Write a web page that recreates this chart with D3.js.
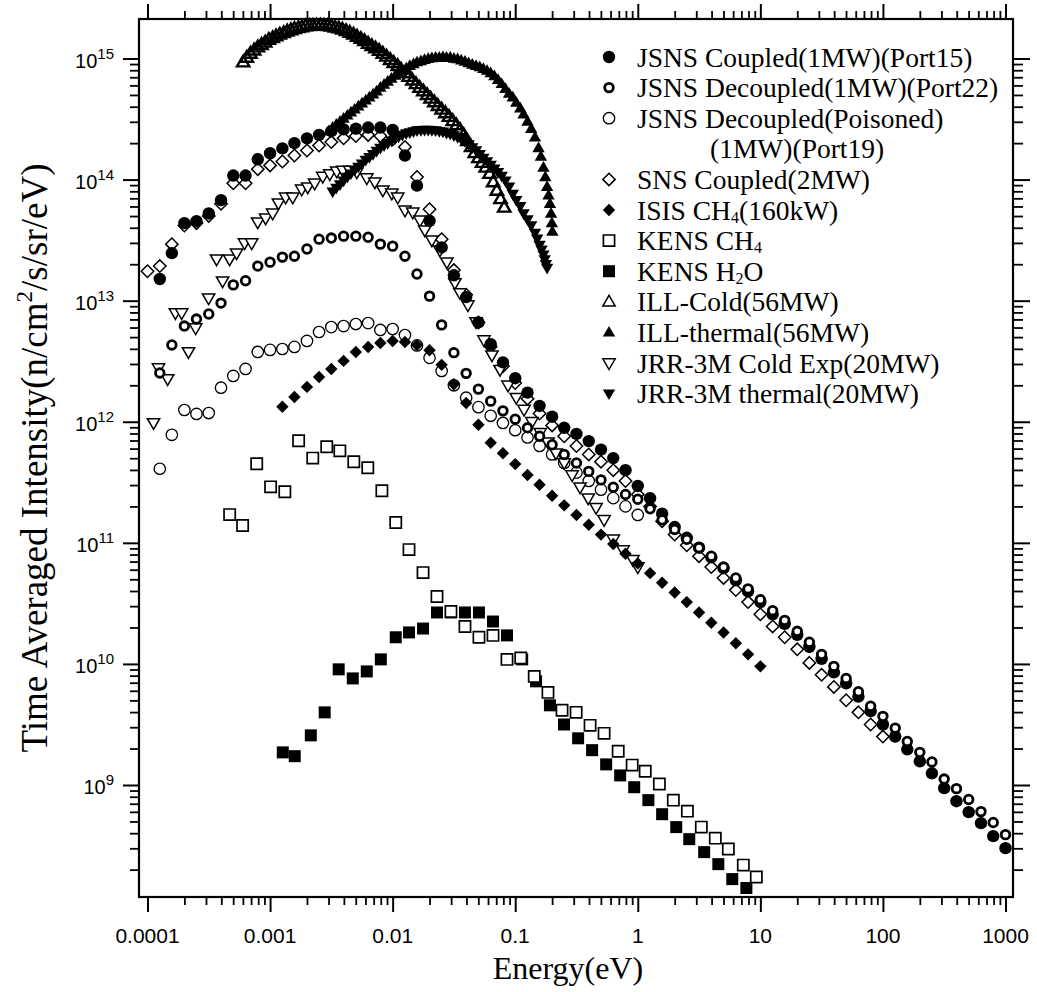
<!DOCTYPE html>
<html>
<head>
<meta charset="utf-8">
<script src="https://cdn.jsdelivr.net/npm/d3@7"></script>
<style>
    body { margin: 0; background: #fff; }
    svg { display: block; }
</style>
</head>
<body>
<div id="chart"></div>
<script>
// [energy (eV), intensity (n/cm2/s/sr/eV)]
const jsnsCoupled = [
    [1.26e-4,1.51e13],[1.58e-4,2.47e13],[2.0e-4,4.37e13],[2.51e-4,4.53e13],[3.16e-4,5.25e13],[3.98e-4,6.76e13],[5.01e-4,1.08e14],[6.31e-4,1.08e14],[7.94e-4,1.47e14],[1.0e-3,1.65e14],
    [1.26e-3,1.81e14],[1.58e-3,2.0e14],[2.0e-3,2.19e14],[2.51e-3,2.34e14],[3.16e-3,2.51e14],[3.98e-3,2.6e14],[5.01e-3,2.63e14],[6.31e-3,2.69e14],[7.94e-3,2.69e14],[1.0e-2,2.57e14],
    [1.26e-2,1.58e14],[1.58e-2,8.91e13],[2.0e-2,4.57e13],[2.51e-2,2.75e13],[3.16e-2,1.62e13],[3.98e-2,1.07e13],[5.01e-2,6.61e12],[6.31e-2,4.37e12],[7.94e-2,3.09e12],[0.1,2.29e12],
    [0.126,1.74e12],[0.158,1.35e12],[0.2,1.10e12],[0.251,8.91e11],[0.316,7.94e11],[0.398,6.92e11],[0.501,5.89e11],[0.631,5.01e11],[0.794,3.98e11],[1.0,2.95e11],
    [1.26,2.34e11],[1.58,1.74e11],[2.0,1.35e11],[2.51,1.10e11],[3.16,9.12e10],[3.98,7.59e10],[5.01,6.17e10],[6.31,4.90e10],[7.94,3.98e10],[10,3.24e10],
    [12.6,2.57e10],[15.8,2.14e10],[20,1.74e10],[25.1,1.38e10],[31.6,1.10e10],[39.8,8.51e9],[50.1,6.92e9],[63.1,5.37e9],[79.4,4.07e9],[100,3.16e9],
    [126,2.51e9],[158,1.97e9],[200,1.57e9],[251,1.25e9],[316,9.42e8],[398,7.35e8],[501,5.97e8],[631,4.84e8],[794,3.78e8],[1000,3.01e8]
];
const jsnsDecoupled = [
    [1.26e-4,2.53e12],[1.58e-4,4.31e12],[2.0e-4,6.17e12],[2.51e-4,7.05e12],[3.16e-4,7.76e12],[3.98e-4,9.55e12],[5.01e-4,1.35e13],[6.31e-4,1.46e13],[7.94e-4,1.93e13],[1.0e-3,2.08e13],
    [1.26e-3,2.29e13],[1.58e-3,2.33e13],[2.0e-3,2.67e13],[2.51e-3,3.22e13],[3.16e-3,3.29e13],[3.98e-3,3.41e13],[5.01e-3,3.41e13],[6.31e-3,3.34e13],[7.94e-3,2.93e13],[1.0e-2,2.82e13],
    [1.26e-2,2.33e13],[1.58e-2,1.66e13],[2.0e-2,1.09e13],[2.51e-2,6.31e12],[3.16e-2,3.72e12],[3.98e-2,2.51e12],[5.01e-2,1.86e12],[6.31e-2,1.48e12],[7.94e-2,1.23e12],[0.1,1.05e12],
    [0.126,8.91e11],[0.158,7.59e11],[0.2,6.46e11],[0.251,5.37e11],[0.316,4.57e11],[0.398,3.89e11],[0.501,3.31e11],[0.631,2.88e11],[0.794,2.51e11],[1.0,2.29e11],
    [1.26,1.91e11],[1.58,1.55e11],[2.0,1.29e11],[2.51,1.07e11],[3.16,9.12e10],[3.98,7.76e10],[5.01,6.31e10],[6.31,5.13e10],[7.94,4.17e10],[10,3.39e10],
    [12.6,2.75e10],[15.8,2.29e10],[20,1.86e10],[25.1,1.51e10],[31.6,1.20e10],[39.8,9.55e9],[50.1,7.59e9],[63.1,5.89e9],[79.4,4.47e9],[100,3.69e9],
    [126,2.95e9],[158,2.29e9],[200,1.86e9],[251,1.55e9],[316,1.12e9],[398,9.33e8],[501,7.59e8],[631,6.03e8],[794,4.90e8],[1000,3.89e8]
];
const jsnsPoisoned = [
    [1.26e-4,4.09e11],[1.58e-4,7.80e11],[2.0e-4,1.25e12],[2.51e-4,1.16e12],[3.16e-4,1.18e12],[3.98e-4,1.91e12],[5.01e-4,2.39e12],[6.31e-4,2.73e12],[7.94e-4,3.77e12],[1.0e-3,3.92e12],
    [1.26e-3,3.99e12],[1.58e-3,4.15e12],[2.0e-3,4.65e12],[2.51e-3,5.51e12],[3.16e-3,6.05e12],[3.98e-3,6.17e12],[5.01e-3,6.41e12],[6.31e-3,6.53e12],[7.94e-3,5.73e12],[1.0e-2,5.83e12],
    [1.26e-2,5.20e12],[1.58e-2,4.27e12],[2.0e-2,3.37e12],[2.51e-2,2.63e12],[3.16e-2,2.0e12],[3.98e-2,1.58e12],[5.01e-2,1.32e12],[6.31e-2,1.12e12],[7.94e-2,9.77e11],[0.1,8.51e11],
    [0.126,7.41e11],[0.158,6.31e11],[0.2,5.37e11],[0.251,4.57e11],[0.316,3.80e11],[0.398,3.24e11],[0.501,2.75e11],[0.631,2.34e11],[0.794,2.0e11],[1.0,1.70e11]
];
const snsCoupled = [
    [1.0e-4,1.75e13],[1.26e-4,1.93e13],[1.58e-4,2.93e13],[2.0e-4,4.17e13],[2.51e-4,4.37e13],[3.16e-4,5.01e13],[3.98e-4,6.31e13],[5.01e-4,9.33e13],[6.31e-4,9.33e13],[7.94e-4,1.22e14],[1.0e-3,1.31e14],
    [1.26e-3,1.41e14],[1.58e-3,1.58e14],[2.0e-3,1.74e14],[2.51e-3,1.91e14],[3.16e-3,2.04e14],[3.98e-3,2.19e14],[5.01e-3,2.29e14],[6.31e-3,2.34e14],[7.94e-3,2.29e14],[1.0e-2,2.14e14],
    [1.26e-2,1.86e14],[1.58e-2,1.05e14],[2.0e-2,5.69e13],[2.51e-2,3.22e13],[3.16e-2,1.79e13],[3.98e-2,1.12e13],[5.01e-2,6.61e12],[6.31e-2,4.17e12],[7.94e-2,2.88e12],[0.1,2.09e12],
    [0.126,1.55e12],[0.158,1.17e12],[0.2,9.33e11],[0.251,7.59e11],[0.316,6.31e11],[0.398,5.37e11],[0.501,4.68e11],[0.631,3.98e11],[0.794,3.24e11],[1.0,2.51e11],
    [1.26,2.0e11],[1.58,1.51e11],[2.0,1.17e11],[2.51,9.55e10],[3.16,7.76e10],[3.98,6.31e10],[5.01,5.13e10],[6.31,4.07e10],[7.94,3.24e10],[10,2.57e10],
    [12.6,2.04e10],[15.8,1.66e10],[20,1.32e10],[25.1,1.02e10],[31.6,8.13e9],[39.8,6.46e9],[50.1,5.01e9],[63.1,3.98e9],[79.4,3.16e9],[100,2.51e9]
];
const isisCH4 = [
    [1.26e-3,1.33e12],[1.58e-3,1.60e12],[2.0e-3,1.94e12],[2.51e-3,2.34e12],[3.16e-3,2.73e12],[3.98e-3,3.18e12],[5.01e-3,3.77e12],[6.31e-3,4.14e12],[7.94e-3,4.47e12],[1.0e-2,4.65e12],
    [1.26e-2,4.56e12],[1.58e-2,4.31e12],[2.0e-2,3.89e12],[2.51e-2,2.95e12],[3.16e-2,2.04e12],[3.98e-2,1.43e12],[5.01e-2,9.44e11],[6.31e-2,6.70e11],[7.94e-2,5.50e11],[0.1,4.47e11],
    [0.126,3.63e11],[0.158,3.02e11],[0.2,2.45e11],[0.251,2.04e11],[0.316,1.70e11],[0.398,1.41e11],[0.501,1.17e11],[0.631,9.77e10],[0.794,8.13e10],[1.0,6.76e10],
    [1.26,5.62e10],[1.58,4.68e10],[2.0,3.89e10],[2.51,3.24e10],[3.16,2.66e10],[3.98,2.19e10],[5.01,1.82e10],[6.31,1.48e10],[7.94,1.20e10],[10,9.55e9]
];
const kensCH4 = [
    [4.68e-4,1.71e11],[5.97e-4,1.39e11],[7.78e-4,4.50e11],[1.01e-3,2.90e11],[1.32e-3,2.64e11],[1.71e-3,6.97e11],[2.23e-3,5.01e11],[2.90e-3,6.21e11],[3.71e-3,5.75e11],[4.82e-3,4.67e11],
    [6.27e-3,4.17e11],[8.17e-3,2.69e11],[1.06e-2,1.47e11],[1.36e-2,8.79e10],[1.77e-2,5.68e10],[2.30e-2,3.60e10],[2.99e-2,2.71e10],[3.89e-2,2.04e10],[5.06e-2,1.66e10],[6.59e-2,1.72e10],
    [8.57e-2,1.09e10],[0.111,1.12e10],[0.143,7.89e9],[0.185,5.82e9],[0.241,4.14e9],[0.314,3.98e9],[0.408,3.11e9],[0.531,2.67e9],[0.692,1.90e9],[0.90,1.46e9],
    [1.15,1.30e9],[1.50,1.02e9],[1.95,7.50e8],[2.54,6.08e8],[3.30,4.49e8],[4.29,3.64e8],[5.48,2.96e8],[7.26,2.18e8],[9.27,1.74e8]
];
const kensH2O = [
    [1.27e-3,1.86e9],[1.59e-3,1.73e9],[2.15e-3,2.57e9],[2.79e-3,3.98e9],[3.63e-3,9.02e9],[4.73e-3,7.59e9],[6.15e-3,8.67e9],[8.01e-3,1.09e10],[1.06e-2,1.66e10],[1.36e-2,1.82e10],
    [1.77e-2,1.96e10],[2.30e-2,2.66e10],[2.99e-2,2.66e10],[3.89e-2,2.66e10],[5.06e-2,2.66e10],[6.59e-2,2.24e10],[8.57e-2,1.72e10],[0.114,1.09e10],[0.148,7.18e9],[0.192,4.55e9],
    [0.25,3.16e9],[0.326,2.43e9],[0.424,1.94e9],[0.552,1.48e9],[0.718,1.20e9],[0.935,9.59e8],[1.22,7.50e8],[1.58,5.74e8],[2.06,4.49e8],[2.63,3.57e8],
    [3.48,2.79e8],[4.54,2.22e8],[5.90,1.67e8],[7.69,1.41e8]
];
const illCold = [
    [6.03e-4,9.33e14],[6.46e-4,1.02e15],[6.92e-4,1.10e15],[7.41e-4,1.17e15],[7.94e-4,1.24e15],[8.51e-4,1.30e15],[9.12e-4,1.36e15],[9.77e-4,1.43e15],[1.05e-3,1.48e15],[1.12e-3,1.53e15],
    [1.20e-3,1.58e15],[1.29e-3,1.63e15],[1.38e-3,1.68e15],[1.48e-3,1.72e15],[1.58e-3,1.76e15],[1.70e-3,1.79e15],[1.82e-3,1.82e15],[1.95e-3,1.85e15],[2.09e-3,1.86e15],[2.24e-3,1.87e15],
    [2.40e-3,1.88e15],[2.57e-3,1.88e15],[2.75e-3,1.87e15],[2.95e-3,1.86e15],[3.16e-3,1.84e15],[3.39e-3,1.81e15],[3.63e-3,1.78e15],[3.89e-3,1.74e15],[4.17e-3,1.69e15],[4.47e-3,1.64e15],
    [4.79e-3,1.58e15],[5.13e-3,1.52e15],[5.50e-3,1.46e15],[5.89e-3,1.40e15],[6.31e-3,1.33e15],[6.76e-3,1.27e15],[7.24e-3,1.22e15],[7.76e-3,1.16e15],[8.32e-3,1.10e15],[8.91e-3,1.04e15],
    [9.55e-3,9.77e14],[1.02e-2,9.23e14],[1.10e-2,8.71e14],[1.17e-2,8.13e14],[1.26e-2,7.59e14],[1.35e-2,7.08e14],[1.45e-2,6.61e14],[1.55e-2,6.17e14],[1.66e-2,5.75e14],[1.78e-2,5.37e14],
    [1.91e-2,5.01e14],[2.04e-2,4.68e14],[2.19e-2,4.37e14],[2.34e-2,4.07e14],[2.51e-2,3.80e14],[2.69e-2,3.55e14],[2.88e-2,3.31e14],[3.09e-2,3.05e14],[3.31e-2,2.82e14],[3.55e-2,2.57e14],
    [3.80e-2,2.34e14],[4.07e-2,2.09e14],[4.37e-2,1.86e14],[4.68e-2,1.66e14],[5.01e-2,1.51e14],[5.37e-2,1.38e14],[5.75e-2,1.26e14],[6.17e-2,1.12e14],[6.61e-2,9.55e13],[7.08e-2,8.13e13],
    [7.59e-2,6.92e13],[8.13e-2,5.89e13]
];
const illThermal = [
    [3.02e-3,2.51e14],[3.24e-3,2.69e14],[3.47e-3,2.85e14],[3.72e-3,3.02e14],[3.98e-3,3.20e14],[4.27e-3,3.39e14],[4.57e-3,3.59e14],[4.90e-3,3.80e14],[5.25e-3,4.03e14],[5.62e-3,4.27e14],
    [6.03e-3,4.52e14],[6.46e-3,4.79e14],[6.92e-3,5.07e14],[7.41e-3,5.37e14],[7.94e-3,5.75e14],[8.51e-3,6.10e14],[9.12e-3,6.46e14],[9.77e-3,6.84e14],[1.05e-2,7.24e14],[1.12e-2,7.59e14],
    [1.20e-2,7.94e14],[1.29e-2,8.32e14],[1.38e-2,8.71e14],[1.48e-2,9.02e14],[1.58e-2,9.33e14],[1.70e-2,9.55e14],[1.82e-2,9.77e14],[1.95e-2,9.93e14],[2.09e-2,1.01e15],[2.24e-2,1.02e15],
    [2.40e-2,1.02e15],[2.57e-2,1.03e15],[2.75e-2,1.02e15],[2.95e-2,1.02e15],[3.16e-2,1.00e15],[3.39e-2,9.89e14],[3.63e-2,9.68e14],[3.89e-2,9.44e14],[4.17e-2,9.16e14],[4.47e-2,8.91e14],
    [4.79e-2,8.71e14],[5.13e-2,8.51e14],[5.50e-2,8.22e14],[5.89e-2,7.94e14],[6.31e-2,7.59e14],[6.76e-2,7.16e14],[7.24e-2,6.68e14],[7.76e-2,6.17e14],[8.32e-2,5.62e14],[8.91e-2,5.13e14],
    [9.55e-2,4.79e14],[0.102,4.32e14],[0.110,3.89e14],[0.117,3.47e14],[0.126,3.02e14],[0.135,2.63e14],[0.145,2.24e14],[0.155,1.82e14],[0.162,1.55e14],[0.170,1.26e14],
    [0.176,1.05e14],[0.182,8.71e13],[0.187,7.41e13],[0.192,6.31e13],[0.196,5.25e13],[0.199,4.37e13],[0.201,3.72e13]
];
const jrrCold = [
    [1.12e-4,9.79e11],[1.23e-4,2.78e12],[1.46e-4,2.26e12],[1.69e-4,7.91e12],[1.90e-4,7.91e12],[2.16e-4,3.77e12],[2.47e-4,5.94e12],[3.15e-4,1.05e13],[3.66e-4,2.20e13],[4.10e-4,1.45e13],
    [4.68e-4,2.20e13],[5.33e-4,2.47e13],[6.19e-4,2.99e13],[7.08e-4,2.99e13],[7.93e-4,4.45e13],[9.20e-4,4.80e13],[1.05e-3,5.27e13],[1.17e-3,6.38e13],[1.34e-3,7.14e13],[1.53e-3,7.14e13],
    [1.81e-3,8.32e13],[2.03e-3,8.65e13],[2.31e-3,9.31e13],[2.69e-3,1.06e14],[3.07e-3,1.11e14],[3.50e-3,1.17e14],[3.92e-3,1.19e14],[4.47e-3,1.19e14],[5.10e-3,1.15e14],[6.15e-3,1.03e14],
    [7.16e-3,9.51e13],[8.32e-3,8.17e13],[9.84e-3,7.71e13],[1.10e-2,7.14e13],[1.26e-2,5.58e13],[1.46e-2,5.37e13],[1.67e-2,4.61e13],[1.83e-2,3.82e13],[2.09e-2,3.16e13],[2.43e-2,2.61e13],
    [2.77e-2,2.08e13],[3.22e-2,1.40e13],[3.54e-2,1.16e13],[4.11e-2,9.20e12],[4.79e-2,6.67e12],[5.56e-2,4.73e12],[6.46e-2,3.55e12],[7.52e-2,2.69e12],[8.73e-2,2.0e12],[0.102,1.58e12],
    [0.118,1.26e12],[0.137,1.0e12],[0.160,8.13e11],[0.185,6.76e11],[0.215,5.50e11],[0.251,4.57e11],[0.291,3.63e11],[0.338,2.88e11],[0.394,2.34e11],[0.457,1.95e11],
    [0.531,1.55e11],[0.631,1.07e11],[0.759,8.71e10],[0.912,7.24e10],[1.0,6.31e10]
];
const jrrThermal = [
    [3.24e-3,7.94e13],[3.47e-3,8.51e13],[3.72e-3,9.12e13],[3.98e-3,9.77e13],[4.27e-3,1.05e14],[4.57e-3,1.12e14],[4.90e-3,1.20e14],[5.25e-3,1.27e14],[5.62e-3,1.35e14],[6.03e-3,1.45e14],
    [6.46e-3,1.53e14],[6.92e-3,1.62e14],[7.41e-3,1.72e14],[7.94e-3,1.82e14],[8.51e-3,1.91e14],[9.12e-3,2.00e14],[9.77e-3,2.09e14],[1.05e-2,2.19e14],[1.12e-2,2.26e14],[1.20e-2,2.34e14],
    [1.29e-2,2.40e14],[1.38e-2,2.45e14],[1.48e-2,2.50e14],[1.58e-2,2.54e14],[1.70e-2,2.56e14],[1.82e-2,2.57e14],[1.95e-2,2.57e14],[2.09e-2,2.56e14],[2.24e-2,2.54e14],[2.40e-2,2.51e14],
    [2.57e-2,2.48e14],[2.75e-2,2.43e14],[2.95e-2,2.38e14],[3.16e-2,2.31e14],[3.39e-2,2.24e14],[3.63e-2,2.16e14],[3.89e-2,2.07e14],[4.17e-2,1.95e14],[4.47e-2,1.84e14],[4.79e-2,1.74e14],
    [5.13e-2,1.62e14],[5.50e-2,1.51e14],[5.89e-2,1.41e14],[6.31e-2,1.32e14],[6.76e-2,1.23e14],[7.24e-2,1.15e14],[7.76e-2,1.07e14],[8.32e-2,9.77e13],[8.91e-2,8.71e13],[9.55e-2,7.59e13],
    [0.102,6.76e13],[0.110,6.03e13],[0.117,5.25e13],[0.126,4.68e13],[0.135,4.17e13],[0.145,3.63e13],[0.151,3.24e13],[0.158,2.88e13],[0.164,2.63e13],[0.170,2.40e13],
    [0.174,2.19e13],[0.178,2.00e13],[0.182,1.86e13]
];

const xTicks = [1e-4, 1e-3, 1e-2, 1e-1, 1, 10, 100, 1000];
const xTickLabels = ["0.0001", "0.001", "0.01", "0.1", "1", "10", "100", "1000"];
const yTicks = [1e9, 1e10, 1e11, 1e12, 1e13, 1e14, 1e15];
const yTickExponents = ["9", "10", "11", "12", "13", "14", "15"];

const width = 1037, height = 992;
const frame = {left: 139, right: 1013, top: 19, bottom: 897};
const serif = "'Liberation Serif', 'Times New Roman', Times, serif";
const sans = "'Liberation Sans', Arial, Helvetica, sans-serif";

const x = d3.scaleLog().domain([1e-4, 1e3]).range([147.5, 1005.5]);
const y = d3.scaleLog().domain([1e9, 1e15]).range([785, 58.5]);

const shapes = {
    circle: r => d3.symbol(d3.symbolCircle, Math.PI * r * r)(),
    diamond: r => `M0,${-r}L${r},0L0,${r}L${-r},0Z`,
    square: r => `M${-r},${-r}H${r}V${r}H${-r}Z`,
    triUp: r => `M0,${-r}L${r * 0.95},${r * 0.65}L${-r * 0.95},${r * 0.65}Z`,
    triDown: r => `M0,${r}L${r * 0.95},${-r * 0.65}L${-r * 0.95},${-r * 0.65}Z`
};

const styles = {
    jsnsCoupled:   {data: jsnsCoupled,   shape: "circle",  r: 6.2, fill: "#000", sw: 0},
    jsnsDecoupled: {data: jsnsDecoupled, shape: "circle",  r: 4.3, fill: "#fff", sw: 2.8},
    jsnsPoisoned:  {data: jsnsPoisoned,  shape: "circle",  r: 5.7, fill: "#fff", sw: 1.3},
    snsCoupled:    {data: snsCoupled,    shape: "diamond", r: 6.2, fill: "#fff", sw: 1.5},
    isisCH4:       {data: isisCH4,       shape: "diamond", r: 6.2, fill: "#000", sw: 0},
    kensCH4:       {data: kensCH4,       shape: "square",  r: 5.6, fill: "#fff", sw: 1.7},
    kensH2O:       {data: kensH2O,       shape: "square",  r: 6.0, fill: "#000", sw: 0},
    illCold:       {data: illCold,       shape: "triUp",   r: 6.5, fill: "none", sw: 1.5},
    illThermal:    {data: illThermal,    shape: "triUp",   r: 6.5, fill: "#000", sw: 0},
    jrrCold:       {data: jrrCold,       shape: "triDown", r: 6.5, fill: "#fff", sw: 1.5},
    jrrThermal:    {data: jrrThermal,    shape: "triDown", r: 6.5, fill: "#000", sw: 0}
};

const drawOrder = ["snsCoupled", "jsnsPoisoned", "jrrCold", "isisCH4", "kensH2O", "kensCH4",
    "jsnsCoupled", "jsnsDecoupled", "jrrThermal", "illThermal", "illCold"];

const legendRows = [
    {key: "jsnsCoupled",   label: "JSNS Coupled(1MW)(Port15)"},
    {key: "jsnsDecoupled", label: "JSNS Decoupled(1MW)(Port22)"},
    {key: "jsnsPoisoned",  label: "JSNS Decoupled(Poisoned)"},
    {key: null,            label: "(1MW)(Port19)", indent: 73},
    {key: "snsCoupled",    label: "SNS Coupled(2MW)"},
    {key: "isisCH4",       label: "ISIS CH_4(160kW)"},
    {key: "kensCH4",       label: "KENS CH_4"},
    {key: "kensH2O",       label: "KENS H_2O"},
    {key: "illCold",       label: "ILL-Cold(56MW)"},
    {key: "illThermal",    label: "ILL-thermal(56MW)"},
    {key: "jrrCold",       label: "JRR-3M Cold Exp(20MW)"},
    {key: "jrrThermal",    label: "JRR-3M thermal(20MW)"}
];

const svg = d3.select("#chart")
    .append("svg")
    .attr("width", width)
    .attr("height", height);

function minorTicks(lo, hi) {
    const out = [];
    for (let e = lo; e < hi; e++) {
        for (let m = 2; m <= 9; m++) out.push(m * Math.pow(10, e));
    }
    return out;
}

function drawTicks(axisFn, scale, values, size, width, transform) {
    svg.append("g")
        .attr("transform", transform)
        .call(axisFn(scale).tickValues(values).tickSize(size).tickFormat(""))
        .call(g => g.select(".domain").remove())
        .selectAll("line")
        .attr("stroke", "#000")
        .attr("stroke-width", width);
}

const xMinor = minorTicks(-4, 3);
const yMinor = minorTicks(8, 15);

drawTicks(d3.axisBottom, x, xTicks, 15, 2, `translate(0,${frame.bottom})`);
drawTicks(d3.axisBottom, x, xMinor, 8, 1.8, `translate(0,${frame.bottom})`);
drawTicks(d3.axisTop, x, xTicks, 15, 2, `translate(0,${frame.top})`);
drawTicks(d3.axisTop, x, xMinor, 8, 1.8, `translate(0,${frame.top})`);
drawTicks(d3.axisLeft, y, yTicks, 16, 2, `translate(${frame.left},0)`);
drawTicks(d3.axisLeft, y, yMinor, 9, 1.8, `translate(${frame.left},0)`);
drawTicks(d3.axisRight, y, yTicks, 17, 2, `translate(${frame.right},0)`);
drawTicks(d3.axisRight, y, yMinor, 10, 1.8, `translate(${frame.right},0)`);

svg.append("rect")
    .attr("x", frame.left)
    .attr("y", frame.top)
    .attr("width", frame.right - frame.left)
    .attr("height", frame.bottom - frame.top)
    .attr("fill", "none")
    .attr("stroke", "#000")
    .attr("stroke-width", 2.2);

// tick labels
svg.append("g")
    .selectAll("text")
    .data(xTicks)
    .enter()
    .append("text")
    .attr("x", d => x(d))
    .attr("y", 943)
    .attr("text-anchor", "middle")
    .style("font-family", sans)
    .style("font-size", "21px")
    .text((d, i) => xTickLabels[i]);

const yLabels = svg.append("g")
    .selectAll("text")
    .data(yTicks)
    .enter()
    .append("text")
    .attr("x", 114)
    .attr("y", d => y(d) + 9)
    .attr("text-anchor", "end")
    .style("font-family", sans)
    .style("font-size", "20px");
yLabels.append("tspan").text("10");
yLabels.append("tspan")
    .attr("dy", -9)
    .style("font-size", "15px")
    .text((d, i) => yTickExponents[i]);

// axis titles
svg.append("text")
    .attr("x", 568)
    .attr("y", 979)
    .attr("text-anchor", "middle")
    .style("font-family", serif)
    .style("font-size", "32px")
    .text("Energy(eV)");

const yTitle = svg.append("text")
    .attr("transform", "translate(47,458) rotate(-90)")
    .attr("text-anchor", "middle")
    .style("font-family", serif)
    .style("font-size", "37px");
yTitle.append("tspan").text("Time Averaged Intensity(n/cm");
yTitle.append("tspan").attr("dy", -15).style("font-size", "23px").text("2");
yTitle.append("tspan").attr("dy", 15).text("/s/sr/eV)");

// data markers
function addMarkers(g, st, points, sw) {
    g.selectAll("path")
        .data(points)
        .enter()
        .append("path")
        .attr("d", shapes[st.shape](st.r))
        .attr("transform", d => `translate(${d[0]},${d[1]})`)
        .attr("fill", st.fill === "none" ? "#fff" : st.fill)
        .attr("fill-opacity", st.fill === "none" ? 0 : 1)
        .attr("stroke", st.sw > 0 ? "#000" : "none")
        .attr("stroke-width", sw || st.sw);
}

const plot = svg.append("g");
drawOrder.forEach(key => {
    const st = styles[key];
    // the dense ILL-Cold run is drawn with heavier outlines so it merges into a band
    const sw = key === "illCold" ? 2.4 : st.sw;
    addMarkers(plot.append("g").attr("class", key), st, st.data.map(d => [x(d[0]), y(d[1])]), sw);
});

// legend
const legend = svg.append("g");
legendRows.forEach((row, i) => {
    const cy = 57 + i * 30.6;
    if (row.key) {
        const st = styles[row.key];
        addMarkers(legend.append("g"), {...st, fill: st.fill === "none" ? "#fff" : st.fill}, [[609, cy]]);
    }
    const t = legend.append("text")
        .attr("x", 637 + (row.indent || 0))
        .attr("y", cy + 9.5)
        .style("font-family", serif)
        .style("font-size", "27.5px");
    row.label.split(/_(\d)/).forEach((part, j) => {
        if (j % 2 === 1) {
            t.append("tspan").attr("dy", 3).style("font-size", "16px").text(part);
        } else if (part) {
            t.append("tspan").attr("dy", j > 0 ? -3 : 0).text(part);
        }
    });
});
</script>
</body>
</html>
